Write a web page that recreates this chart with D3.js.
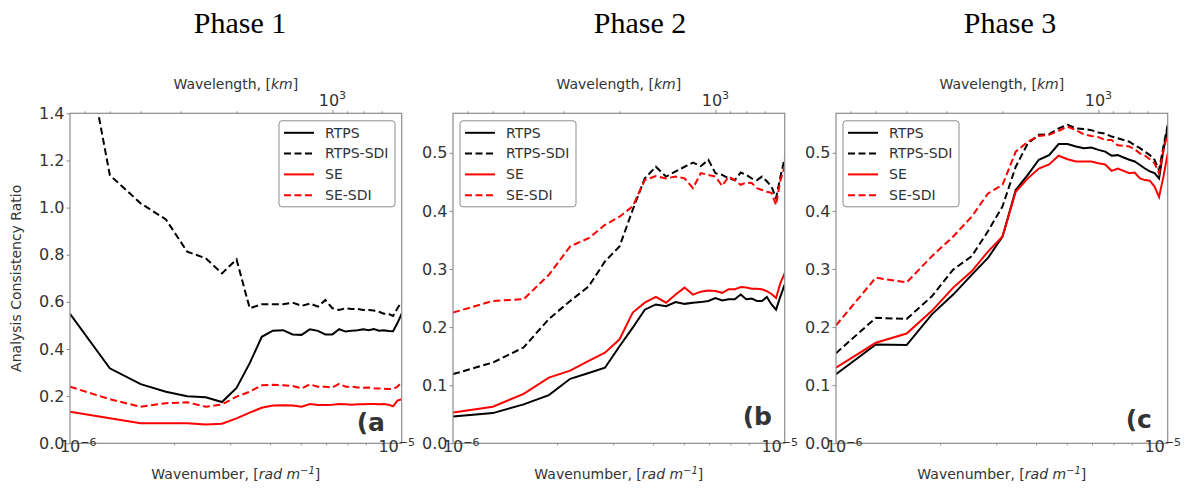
<!DOCTYPE html>
<html>
<head>
<meta charset="utf-8">
<script src="https://cdn.jsdelivr.net/npm/d3@7"></script>
<style>
  body { margin: 0; background: #fff; }
  text { font-family: "DejaVu Sans", sans-serif; fill: #333; }
  .title { font-family: "Liberation Serif", "Times New Roman", serif; font-size: 30px; fill: #000; }
  .domain { stroke: #8c8c8c; }
</style>
</head>
<body>
<div id="chart"></div>
<script>
// wavenumber index n, k = 2*pi*n / L  (L = 20000 km domain)
const domainLength = 2.0e7
const waveIndex = [3,4,5,6,7,8,9,10,11,12,13,14,15,16,17,18,19,20,21,22,23,24,25,26,27,28,29,30,31,32,33]
const seriesNames = ["RTPS", "RTPS-SDI", "SE", "SE-SDI"]
const panelTitles = ["Phase 1", "Phase 2", "Phase 3"]
const panelLabels = ["(a", "(b", "(c"]
const yTicks1 = [0.0, 0.2, 0.4, 0.6, 0.8, 1.0, 1.2, 1.4]
const yTicks23 = [0.0, 0.1, 0.2, 0.3, 0.4, 0.5]
const wavelengthMinorKm = [6000, 5000, 4000, 3000, 2000, 900, 800, 700]
const wavelengthMajorKm = [1000]

const p1Rtps = [0.549,0.318,0.251,0.219,0.200,0.195,0.175,0.235,0.340,0.452,0.478,0.480,0.462,0.460,0.484,0.477,0.462,0.462,0.484,0.474,0.478,0.480,0.484,0.480,0.485,0.478,0.480,0.476,0.475,0.510,0.550]
const p1RtpsSdi = [2.04,1.138,1.018,0.950,0.813,0.785,0.721,0.780,0.573,0.590,0.590,0.590,0.597,0.583,0.593,0.580,0.608,0.573,0.566,0.573,0.570,0.570,0.566,0.566,0.563,0.558,0.550,0.549,0.540,0.573,0.600]
const p1Se = [0.134,0.106,0.085,0.085,0.085,0.080,0.083,0.106,0.130,0.151,0.160,0.161,0.160,0.155,0.167,0.163,0.163,0.164,0.167,0.166,0.164,0.166,0.166,0.167,0.167,0.166,0.167,0.164,0.157,0.181,0.187]
const p1SeSdi = [0.240,0.187,0.155,0.170,0.174,0.155,0.165,0.198,0.219,0.246,0.248,0.246,0.243,0.233,0.250,0.240,0.240,0.237,0.252,0.240,0.240,0.237,0.236,0.237,0.233,0.232,0.232,0.230,0.230,0.240,0.261]

const p2Rtps = [0.046,0.052,0.067,0.083,0.111,0.121,0.130,0.167,0.199,0.230,0.239,0.236,0.243,0.240,0.242,0.243,0.245,0.250,0.246,0.248,0.248,0.256,0.248,0.249,0.245,0.245,0.252,0.239,0.230,0.253,0.273]
const p2RtpsSdi = [0.119,0.139,0.165,0.214,0.245,0.270,0.313,0.339,0.402,0.456,0.476,0.459,0.468,0.476,0.483,0.477,0.488,0.465,0.462,0.456,0.453,0.466,0.462,0.456,0.453,0.459,0.451,0.442,0.422,0.459,0.491]
const p2Se = [0.053,0.063,0.085,0.113,0.125,0.142,0.156,0.179,0.225,0.242,0.252,0.242,0.256,0.268,0.256,0.261,0.263,0.262,0.259,0.265,0.265,0.269,0.268,0.266,0.266,0.265,0.262,0.257,0.250,0.276,0.293]
const p2SeSdi = [0.225,0.245,0.248,0.290,0.339,0.353,0.376,0.390,0.408,0.453,0.460,0.456,0.459,0.456,0.439,0.465,0.462,0.459,0.443,0.459,0.453,0.445,0.449,0.448,0.439,0.436,0.433,0.431,0.410,0.453,0.476]

const p3Rtps = [0.119,0.170,0.169,0.222,0.256,0.290,0.319,0.356,0.436,0.462,0.488,0.496,0.515,0.515,0.511,0.508,0.509,0.505,0.502,0.495,0.496,0.492,0.488,0.485,0.479,0.473,0.468,0.465,0.456,0.505,0.545]
const p3RtpsSdi = [0.155,0.216,0.214,0.253,0.299,0.322,0.365,0.408,0.476,0.516,0.531,0.532,0.542,0.548,0.542,0.541,0.539,0.535,0.533,0.528,0.525,0.522,0.519,0.513,0.508,0.502,0.496,0.488,0.470,0.511,0.548]
const p3Se = [0.130,0.173,0.189,0.228,0.268,0.296,0.330,0.356,0.433,0.456,0.473,0.480,0.495,0.489,0.485,0.485,0.485,0.482,0.480,0.469,0.473,0.469,0.465,0.466,0.456,0.453,0.452,0.442,0.424,0.459,0.499]
const p3SeSdi = [0.203,0.285,0.277,0.322,0.356,0.390,0.430,0.445,0.502,0.519,0.529,0.531,0.538,0.545,0.539,0.532,0.529,0.527,0.522,0.522,0.513,0.512,0.511,0.506,0.499,0.495,0.489,0.482,0.465,0.505,0.533]

const width = 1189
const height = 489
const panelW = 331.7
const panelH = 330
const plotTop = 113.3

const styles = [
    {color: "#000", dash: null},
    {color: "#000", dash: "7,3.5"},
    {color: "#ff0000", dash: null},
    {color: "#ff0000", dash: "7,3.5"}
]

const panels = [
    {left: 70, yMax: 1.4, yTicks: yTicks1, series: [p1Rtps, p1RtpsSdi, p1Se, p1SeSdi], legendX: 209, titleX: 240, labelY: 431, labelDx: -45, showYLabel: true},
    {left: 453, yMax: 0.568, yTicks: yTicks23, series: [p2Rtps, p2RtpsSdi, p2Se, p2SeSdi], legendX: 7, titleX: 640, labelY: 425, labelDx: -42},
    {left: 836, yMax: 0.568, yTicks: yTicks23, series: [p3Rtps, p3RtpsSdi, p3Se, p3SeSdi], legendX: 7, titleX: 1010, labelY: 428, labelDx: -42}
]

const waveK = waveIndex.map(n => 2 * Math.PI * n / domainLength)
const kmToK = km => 2 * Math.PI / (km * 1000)

const svg = d3.select("#chart").append("svg").attr("width", width).attr("height", height)

panels.forEach((p, i) => {
    const g = svg.append("g").attr("transform", `translate(${p.left}, ${plotTop})`)

    const x = d3.scaleLog().domain([waveK[0], waveK[waveK.length - 1]]).range([0, panelW])
    const y = d3.scaleLinear().domain([0, p.yMax]).range([panelH, 0])

    svg.append("text").attr("class", "title")
        .attr("x", p.titleX).attr("y", 33).attr("text-anchor", "middle")
        .text(panelTitles[i])

    // clip
    svg.append("clipPath").attr("id", "clip" + i)
        .append("rect").attr("width", panelW).attr("height", panelH)

    // lines
    const line = d3.line().x((d, j) => x(waveK[j])).y(d => y(d))
    const plot = g.append("g").attr("clip-path", `url(#clip${i})`)
    p.series.forEach((s, j) => {
        plot.append("path")
            .attr("d", line(s))
            .attr("fill", "none")
            .attr("stroke", styles[j].color)
            .attr("stroke-width", 2)
            .attr("stroke-dasharray", styles[j].dash)
    })

    // frame
    g.append("rect").attr("width", panelW).attr("height", panelH)
        .attr("fill", "none").attr("stroke", "#8c8c8c").attr("stroke-width", 1.2)

    // y axis
    const yAxis = d3.axisLeft(y).tickValues(p.yTicks).tickFormat(d3.format(".1f")).tickSize(3.5).tickPadding(2)
    const yg = g.append("g").call(yAxis)
    yg.select(".domain").remove()
    yg.selectAll("line").attr("stroke", "#8c8c8c")
    yg.selectAll("text").attr("font-size", 16).attr("fill", "#333")

    // bottom axis (log)
    const minorK = [2e-6, 3e-6, 4e-6, 5e-6, 6e-6, 7e-6, 8e-6, 9e-6]
    const majorK = [1e-6, 1e-5]
    const xg = g.append("g").attr("transform", `translate(0, ${panelH})`)
        .call(d3.axisBottom(x).tickValues(minorK.concat(majorK)).tickFormat(() => "").tickSize(2))
    xg.select(".domain").remove()
    xg.selectAll("line").attr("stroke", "#8c8c8c")
    xg.selectAll(".tick").filter(d => majorK.includes(d)).select("line").attr("y2", 3.5)
    majorK.forEach(k => {
        const t = g.append("text").attr("x", x(k)).attr("y", panelH + 9).attr("text-anchor", "middle").attr("font-size", 16)
        t.append("tspan").text("10")
        t.append("tspan").attr("dy", -6.5).attr("font-size", 11).text("−" + Math.round(-Math.log10(k)))
    })
    const xl = g.append("text").attr("x", panelW / 2).attr("y", panelH + 36).attr("text-anchor", "middle").attr("font-size", 14)
    xl.append("tspan").text("Wavenumber, [")
    xl.append("tspan").attr("font-style", "italic").text("rad m")
    xl.append("tspan").attr("dy", -5).attr("font-size", 10).attr("font-style", "italic").text("−1")
    xl.append("tspan").attr("dy", 5).text("]")

    // top axis (wavelength)
    const xt = g.append("g")
        .call(d3.axisTop(x).tickValues(wavelengthMinorKm.concat(wavelengthMajorKm).map(kmToK)).tickFormat(() => "").tickSize(2))
    xt.select(".domain").remove()
    xt.selectAll("line").attr("stroke", "#8c8c8c")
    xt.selectAll(".tick").filter(d => Math.abs(d - kmToK(1000)) < 1e-12).select("line").attr("y2", -3.5)
    wavelengthMajorKm.forEach(km => {
        const t = g.append("text").attr("x", x(kmToK(km))).attr("y", -7.5).attr("text-anchor", "middle").attr("font-size", 16)
        t.append("tspan").text("10")
        t.append("tspan").attr("dy", -6.5).attr("font-size", 11).text("3")
    })
    const tl = g.append("text").attr("x", panelW / 2).attr("y", -24).attr("text-anchor", "middle").attr("font-size", 14)
    tl.append("tspan").text("Wavelength, [")
    tl.append("tspan").attr("font-style", "italic").text("km")
    tl.append("tspan").text("]")

    if (p.showYLabel) {
        g.append("text").attr("transform", `translate(${-49}, ${panelH / 2}) rotate(-90)`)
            .attr("text-anchor", "middle").attr("font-size", 14)
            .text("Analysis Consistency Ratio")
    }

    // panel label
    g.append("text").attr("x", panelW + p.labelDx).attr("y", p.labelY - plotTop)
        .attr("font-size", 25).attr("font-weight", "bold").attr("fill", "#000")
        .text(panelLabels[i])

    // legend
    const lg = g.append("g").attr("transform", `translate(${p.legendX}, 7.5)`)
    lg.append("rect").attr("width", 116).attr("height", 86).attr("rx", 3)
        .attr("fill", "#fff").attr("fill-opacity", 0.85).attr("stroke", "#8c8c8c").attr("stroke-width", 1)
    seriesNames.forEach((name, j) => {
        const yy = 12 + j * 20.8
        lg.append("line").attr("x1", 5).attr("x2", 35).attr("y1", yy).attr("y2", yy)
            .attr("stroke", styles[j].color).attr("stroke-width", 2).attr("stroke-dasharray", styles[j].dash)
        lg.append("text").attr("x", 46).attr("y", yy).attr("dy", "0.35em").attr("font-size", 14).text(name)
    })
})
</script>
</body>
</html>
